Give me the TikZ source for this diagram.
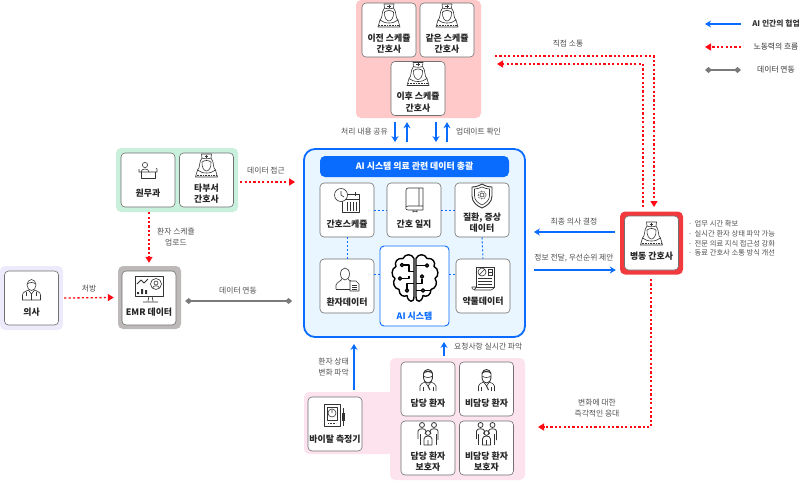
\documentclass[tikz,border=0pt]{standalone}
\usepackage{fontspec}
\setmainfont{Noto Sans CJK KR}
\usepackage{xcolor}
\usetikzlibrary{arrows.meta, positioning, calc}

\definecolor{coreblue}{HTML}{0A6CFF}
\definecolor{corefill}{HTML}{E9F6FF}
\definecolor{flowred}{HTML}{FF0A14}
\definecolor{wardred}{HTML}{F23A3E}
\definecolor{linkgray}{HTML}{7A7A7A}
\definecolor{labelgray}{HTML}{4F4F4F}
\definecolor{cardline}{HTML}{707070}
\definecolor{iconline}{HTML}{333333}
\definecolor{panelrose}{HTML}{FFC9C9}
\definecolor{panelmint}{HTML}{C9F0DC}
\definecolor{panellilac}{HTML}{ECEAFB}
\definecolor{panelstone}{HTML}{BDB9B9}
\definecolor{panelblush}{HTML}{FCE3EE}

\tikzset{
    panel/.style={rounded corners=5, inner sep=0, minimum width=#1},
    card/.style={draw=cardline, line width=.6, rounded corners=4, fill=white, inner sep=0, minimum width=54, minimum height=54},
    cardtext/.style={align=center, text=black!85, font=\fontsize{8.9}{11.5}\selectfont\bfseries, inner sep=0},
    note/.style={align=center, text=labelgray, font=\fontsize{7.8}{11}\selectfont, inner sep=0},
    aiarrow/.style={draw=coreblue, line width=1.5, -{Stealth[length=6, width=7]}},
    flowarrow/.style={draw=flowred, line width=1.3, dash pattern=on 2.2 off 2.2, -{Stealth[length=6, width=7, inset=0]}},
    datalink/.style={draw=linkgray, line width=1.5, {Diamond[length=7, width=6]}-{Diamond[length=7, width=6]}},
    coredash/.style={draw=coreblue, line width=1, dash pattern=on 2 off 2},
    icon/.style={draw=iconline, line width=.6, line join=round},
    pics/nurseicon/.style={code={
        \draw[icon] (-4.5,-8) -- (-5,-12) -- (5,-12) -- (4.5,-8);
        \draw[icon] (-1.8,-10) -- (1.8,-10) (0,-11.5) -- (0,-8.5);
        \draw[icon] (-4.5,-8) .. controls (-2,-7) and (2,-7) .. (4.5,-8);
        \draw[icon] (-4.5,-8) .. controls (-8,-4) and (-6,2) .. (-9,4) (4.5,-8) .. controls (8,-4) and (6,2) .. (9,4);
        \draw[icon] (-4.5,-4) .. controls (-5,2) and (-2,5) .. (0,5) .. controls (2,5) and (5,2) .. (4.5,-4) .. controls (2,-6) and (-2,-6) .. (-4.5,-4);
        \draw[icon] (-9,4) -- (-11,11) -- (11,11) -- (9,4) .. controls (6,6) and (4,7) .. (0,7) .. controls (-4,7) and (-6,6) .. (-9,4);
        \draw[icon, densely dotted] (-10,9) -- (10,9);
    }},
    pics/doctoricon/.style={code={
        \draw[icon] (0,-5) ellipse (4.5 and 5.5);
        \draw[icon] (-4.5,-6) .. controls (-2,-8) and (2,-8) .. (4.5,-6);
        \draw[icon] (-9,10) -- (-9,5) .. controls (-9,2) and (-5,1) .. (-3,0) -- (0,4) -- (3,0) .. controls (5,1) and (9,2) .. (9,5) -- (9,10) -- cycle;
        \draw[icon] (-5,2) -- (-5,6) (5,2) -- (5,6) (0,4) -- (0,10);
    }},
    pics/clerkicon/.style={code={
        \draw[icon] (-3,-7) circle (2.6);
        \draw[icon] (-7,0) .. controls (-7,-4) and (1,-4) .. (1,0);
        \draw[icon] (-9,-3) -- (-9,0) -- (9,0) -- (9,-3) -- (8,-4);
        \draw[icon] (-7,0) -- (-7,6) -- (7,6) -- (7,0);
    }},
    pics/monitoricon/.style={code={
        \draw[icon, line width=.9] (-14,-11) rectangle (14,9);
        \draw[icon] (0,9) -- (-1,14) (3,9) -- (4,14) (-6,15) -- (9,15);
        \draw[icon, line width=.9] (-12,-3) -- (-8,-7) -- (-5,-4) -- (-1,-8);
        \fill[iconline] (-12,5) rectangle (-10,7) (-8,2) rectangle (-6,7) (-4,3) rectangle (-2,7);
        \draw[icon] (7,-3) circle (5.5) (7,-4) circle (2);
        \draw[icon] (3.5,1) .. controls (4.5,-2) and (9.5,-2) .. (10.5,1);
    }},
    pics/scheduleicon/.style={code={
        \draw[icon] (-5,-7) rectangle (12,11);
        \draw[icon] (-5,-2) -- (12,-2) (8,-9) -- (8,-5);
        \draw[icon] (-2,1) grid[step=3] (10,10);
        \draw[icon, fill=white] (-6,-6) circle (6.5);
        \draw[icon] (-6,-10) -- (-6,-6) -- (-3,-4);
    }},
    pics/bookicon/.style={code={
        \draw[icon] (-8,8) -- (-8,-9) .. controls (-8,-10) and (-7,-11) .. (-6,-11) -- (9,-11) -- (9,7) -- (-6,7) .. controls (-9,7) and (-9,11) .. (-6,11) -- (9,11) -- (9,7);
        \draw[icon] (5,-11) -- (5,7) (-1,11) -- (-1,13) -- (1,12) -- (3,13) -- (3,11);
    }},
    pics/shieldicon/.style={code={
        \draw[icon, line width=.9] (0,-12) .. controls (3,-10) and (7,-9) .. (10,-9) -- (10,0) .. controls (10,6) and (5,10) .. (0,12) .. controls (-5,10) and (-10,6) .. (-10,0) -- (-10,-9) .. controls (-7,-9) and (-3,-10) .. (0,-12) -- cycle;
        \draw[icon] (0,-9) .. controls (2,-8) and (5,-7) .. (7.5,-7) -- (7.5,0) .. controls (7.5,4) and (4,7) .. (0,9) .. controls (-4,7) and (-7.5,4) .. (-7.5,0) -- (-7.5,-7) .. controls (-5,-7) and (-2,-8) .. (0,-9) -- cycle;
        \draw[icon, densely dotted, line width=1] (0,-1) circle (4);
        \draw[icon] (0,-1) circle (2);
    }},
    pics/charticon/.style={code={
        \draw[icon] (-2,-5) ellipse (4.5 and 6);
        \draw[icon] (-11,10) -- (-11,6) .. controls (-10,3) and (-6,2) .. (-5,0) (1,0) .. controls (2,1) and (3,2) .. (4,2);
        \draw[icon] (-11,10) -- (3,10);
        \draw[icon, fill=white] (3,2) -- (9,2) -- (12,5) -- (12,12) -- (3,12) -- cycle;
        \draw[icon] (5,6) -- (10,6) (5,8) -- (10,8) (5,10) -- (10,10);
    }},
    pics/drugicon/.style={code={
        \draw[icon, line width=.9] (-7,-11) rectangle (11,9);
        \draw[icon] (-7,9) .. controls (-7,12) and (-11,12) .. (-11,10) -- (-11,9) -- (-7,9) (-9,12) -- (8,12) .. controls (11,12) and (11,9) .. (11,9);
        \draw[icon] (-1,-6) circle (4) (-4,-3) -- (2,-9);
        \draw[icon] (5,-9) rectangle (9,-3) (5,-6) -- (9,-6);
        \draw[icon] (-5,0) -- (9,0) (-5,3) -- (9,3) (-5,6) -- (9,6);
    }},
    pics/patienticon/.style={code={
        \draw[icon, line width=.9] (-4.5,-6) .. controls (-5,2) and (-2,3) .. (0,3) .. controls (2,3) and (5,2) .. (4.5,-6) .. controls (4,-12) and (-4,-12) .. (-4.5,-6);
        \draw[icon, line width=1.1] (-4.5,-7) .. controls (-2,-9) and (2,-9) .. (4.5,-7);
        \draw[icon] (-4.5,-4) .. controls (-2,-2) and (2,-2) .. (4.5,-4);
        \draw[icon] (-8,11) -- (-8,6) .. controls (-8,4) and (-5,3) .. (-3,2) -- (0,6) -- (3,2) .. controls (5,3) and (8,4) .. (8,6) -- (8,11);
        \draw[icon, line width=1.1] (0,6) -- (2,10);
        \draw[icon] (-5,7) -- (-5,11) (5,7) -- (5,11);
    }},
    pics/familyicon/.style={code={
        \draw[icon, line width=.8] (-6,-9) circle (2.5) (6,-9) circle (2.5) (0,-1) circle (2.4);
        \draw[icon, line width=.8] (-10,5) -- (-10,-3) .. controls (-10,-6) and (-2,-6) .. (-2,-3) -- (-3,0);
        \draw[icon, line width=.8] (10,6) -- (10,-3) .. controls (10,-6) and (2,-6) .. (2,-3) -- (3,0);
        \draw[icon, line width=.8] (-8,11) -- (-8,0) (8,11) -- (8,0);
        \draw[icon, line width=.8] (-4,11) -- (-4,5) .. controls (-4,1) and (4,1) .. (4,5) -- (4,11) -- cycle (0,6) -- (0,11);
    }},
    pics/vitalicon/.style={code={
        \draw[icon, line width=.9] (-11,-12) rectangle (5,10);
        \draw[icon] (-8,-9) rectangle (2,4);
        \draw[icon] (-3,-3) circle (4) (-3,-3) -- (-3,-6);
        \draw[icon, densely dotted, line width=1] (-7,7) -- (1,7);
        \draw[icon] (8,-8) -- (8,-3);
        \fill[iconline] (6.5,-3) rectangle (9.5,5);
        \draw[icon] (8,5) -- (8,10);
    }},
}

\begin{document}
\begin{tikzpicture}[x=1pt, y=-1pt]
    \useasboundingbox (0,0) rectangle (800,480);

    % Panels
    \node[panel=125, minimum height=118, fill=panelrose] (shiftpanel) at (418.5,59) {};
    \node[panel=122, minimum height=64, fill=panelmint] (staffpanel) at (177,180) {};
    \node[panel=63, minimum height=64, fill=panellilac] (doctorpanel) at (31.5,298) {};
    \node[panel=63, minimum height=63, fill=panelstone] (emrpanel) at (149.5,297.5) {};
    \node[panel=63, minimum height=63, fill=wardred] (wardpanel) at (651.5,243) {};
    \node[panel=95, minimum height=62, fill=panelblush] (vitalpanel) at (351.5,423) {};
    \node[panel=135, minimum height=122, fill=panelblush] (patientpanel) at (457.5,419) {};
    \node[panel=221, minimum height=188, draw=coreblue, line width=1.8, fill=corefill, rounded corners=11] (corepanel) at (414.5,243) {};
    \node[rounded corners=5, fill=coreblue, minimum width=189, minimum height=21, inner sep=0, text=white, font=\fontsize{8.9}{11}\selectfont\bfseries] (coretitle) at (414.5,166.5) {AI 시스템 의료 관련 데이터 총괄};

    % Nurses on shift
    \node[card] (prevnurse) at (389,30) {};
    \node[cardtext] (prevnursetext) at ([yshift=-13.5pt]prevnurse.center) {이전 스케쥴\\간호사};
    \pic at ([yshift=14pt]prevnurse.center) {nurseicon};
    \node[card] (samenurse) at (447,30) {};
    \node[cardtext] (samenursetext) at ([yshift=-13.5pt]samenurse.center) {같은 스케쥴\\간호사};
    \pic at ([yshift=14pt]samenurse.center) {nurseicon};
    \node[card] (nextnurse) at (418,88.5) {};
    \node[cardtext] (nextnursetext) at ([yshift=-13.5pt]nextnurse.center) {이후 스케쥴\\간호사};
    \pic at ([yshift=14pt]nextnurse.center) {nurseicon};

    % Other staff
    \node[card] (office) at (148,180) {};
    \node[cardtext] (officetext) at ([yshift=-13pt]office.center) {원무과};
    \pic at ([yshift=8pt]office.center) {clerkicon};
    \node[card] (othernurse) at (206.5,180) {};
    \node[cardtext] (othernursetext) at ([yshift=-13.5pt]othernurse.center) {타부서\\간호사};
    \pic at ([yshift=14pt]othernurse.center) {nurseicon};
    \node[card] (doctor) at (31.5,298) {};
    \node[cardtext] (doctortext) at ([yshift=-14pt]doctor.center) {의사};
    \pic at ([yshift=8pt]doctor.center) {doctoricon};
    \node[card] (emr) at (149,298) {};
    \node[cardtext] (emrtext) at ([yshift=-14pt]emr.center) {EMR 데이터};
    \pic at ([yshift=11pt]emr.center) {monitoricon};
    \node[card] (ward) at (651.5,243) {};
    \node[cardtext] (wardtext) at ([yshift=-13pt]ward.center) {병동 간호사};
    \pic at ([yshift=9pt]ward.center) {nurseicon};

    % Data cards
    \node[card] (schedule) at (347,210) {};
    \node[cardtext] (scheduletext) at ([yshift=-14pt]schedule.center) {간호스케쥴};
    \pic at ([yshift=9pt]schedule.center) {scheduleicon};
    \node[card] (diary) at (414,210) {};
    \node[cardtext] (diarytext) at ([yshift=-14pt]diary.center) {간호 일지};
    \pic at ([yshift=11pt]diary.center) {bookicon};
    \node[card] (disease) at (482,210) {};
    \node[cardtext] (diseasetext) at ([yshift=-12.5pt]disease.center) {질환, 증상\\데이터};
    \pic at ([yshift=14pt]disease.center) {shieldicon};
    \node[card] (patientdata) at (347,286) {};
    \node[cardtext] (patientdatatext) at ([yshift=-16pt]patientdata.center) {환자데이터};
    \pic at ([yshift=7pt]patientdata.center) {charticon};
    \node[card] (drugdata) at (483,286) {};
    \node[cardtext] (drugdatatext) at ([yshift=-15pt]drugdata.center) {약물데이터};
    \pic at ([yshift=8pt]drugdata.center) {drugicon};
    \node[card, draw=coreblue, line width=.9, minimum width=69, minimum height=80] (aisystem) at (414.5,286) {};
    \node[cardtext, text=coreblue] (aisystemtext) at ([yshift=-30pt]aisystem.center) {AI 시스템};

    % Brain
    \begin{scope}[shift={(415,278.5)}, line width=1.4, line join=round]
        \foreach \side in {1,-1} {
            \begin{scope}[xscale=\side]
                \draw (1,-20) .. controls (3,-25) and (10,-25) .. (12,-20)
                    .. controls (18,-21) and (21,-16) .. (19,-12)
                    .. controls (24,-10) and (24,-2) .. (20,0)
                    .. controls (23,4) and (21,10) .. (16,11)
                    .. controls (16,17) and (11,19) .. (8,17)
                    .. controls (7,24) and (1,25) .. (1,18) -- cycle;
            \end{scope}
        }
        \draw (-11.5,-13.5) -- (-6,-13.5) -- (-6,-7) -- (-1,-7);
        \draw (-13.5,0) -- (-6,0) -- (-6,-3);
        \draw (-8,10) -- (-8,5) -- (-1,5);
        \draw (10.5,-13) -- (1,-13);
        \draw (7,0) -- (7,5) -- (1,5);
        \draw (9.5,12) -- (16,12) (6.5,12) -- (1,12);
        \draw (-13,-13.5) circle (1.7) (-15,0) circle (1.7) (-8,12) circle (1.7);
        \draw (12,-13) circle (1.7) (7,-2) circle (1.7) (8,12) circle (1.7);
    \end{scope}

    % Patients
    \node[card] (mypatient) at (428,389) {};
    \node[cardtext] (mypatienttext) at ([yshift=-14pt]mypatient.center) {담당 환자};
    \pic at ([yshift=9pt]mypatient.center) {patienticon};
    \node[card] (otherpatient) at (486.5,389) {};
    \node[cardtext] (otherpatienttext) at ([yshift=-14pt]otherpatient.center) {비담당 환자};
    \pic at ([yshift=9pt]otherpatient.center) {patienticon};
    \node[card] (myguardian) at (428,448) {};
    \node[cardtext] (myguardiantext) at ([yshift=-13.5pt]myguardian.center) {담당 환자\\보호자};
    \pic at ([yshift=14pt]myguardian.center) {familyicon};
    \node[card] (otherguardian) at (486.5,448) {};
    \node[cardtext] (otherguardiantext) at ([yshift=-13.5pt]otherguardian.center) {비담당 환자\\보호자};
    \pic at ([yshift=14pt]otherguardian.center) {familyicon};
    \node[card] (vital) at (335,424) {};
    \node[cardtext] (vitaltext) at ([yshift=-15pt]vital.center) {바이탈 측정기};
    \pic at ([yshift=8pt]vital.center) {vitalicon};

    % Edges
    \draw[coredash] (schedule) -- (diary);
    \draw[coredash] (diary) -- (disease);
    \draw[coredash] (schedule) -- (patientdata);
    \draw[coredash] (disease.south) -- (drugdata.north);
    \draw[coredash] ([yshift=12pt]patientdata.east) -- ([yshift=12pt]patientdata.east -| aisystem.west);
    \draw[coredash] ([yshift=12pt]aisystem.east) -- ([yshift=12pt]aisystem.east -| drugdata.west);

    \draw[aiarrow] ([xshift=-23.5pt,yshift=-4pt]shiftpanel.south) -- ([xshift=-19.5pt,yshift=6pt]corepanel.north);
    \draw[aiarrow] ([xshift=-7.5pt,yshift=6pt]corepanel.north) -- ([xshift=-11.5pt,yshift=-4pt]shiftpanel.south);
    \draw[aiarrow] ([xshift=17.5pt,yshift=-4pt]shiftpanel.south) -- ([xshift=21.5pt,yshift=6pt]corepanel.north);
    \draw[aiarrow] ([xshift=32.5pt,yshift=6pt]corepanel.north) -- ([xshift=28.5pt,yshift=-4pt]shiftpanel.south);
    \draw[aiarrow] ([xshift=-5pt,yshift=11pt]wardpanel.west) -- ([xshift=8pt,yshift=11pt]corepanel.east);
    \draw[aiarrow] ([xshift=8pt,yshift=-27pt]corepanel.east) -- ([xshift=-4pt,yshift=-27pt]wardpanel.west);
    \draw[aiarrow] ([xshift=2.5pt,yshift=2pt]vitalpanel.north) -- ([xshift=-60.5pt,yshift=-6pt]corepanel.south);
    \draw[aiarrow] ([xshift=-13.5pt,yshift=2pt]patientpanel.north) -- ([xshift=29.5pt,yshift=-4pt]corepanel.south);

    \draw[flowarrow] ([xshift=2pt,yshift=-2pt]staffpanel.east) -- ([xshift=-8pt,yshift=61pt]corepanel.west);
    \draw[flowarrow] ([xshift=-28pt]staffpanel.south) -- ([xshift=-.5pt,yshift=3pt]emrpanel.north);
    \draw[flowarrow] ([xshift=1pt]doctorpanel.east) -- ([xshift=-4pt]emrpanel.west);
    \draw[datalink] ([xshift=4pt,yshift=-3.5pt]emrpanel.east) -- ([xshift=-11pt,yshift=-58pt]corepanel.west);

    \coordinate (shiftin) at (495,56);
    \coordinate (shiftout) at (497,64);
    \draw[flowarrow] (shiftin) -- (654,56) -- (654,207);
    \draw[flowarrow] (643,207) -- (643,64) -- (shiftout);
    \draw[flowarrow] (651,279) -- (651,427) -- (538,427);

    % Labels
    \node[note] (sharelabel) at (364.5,132) {처리 내용 공유};
    \node[note] (updatelabel) at (478.5,132) {업데이트 확인};
    \node[note] (talklabel) at (568,44) {직접 소통};
    \node[note] (accesslabel) at (266,171) {데이터 접근};
    \node[note] (uploadlabel) at (176,237.5) {환자 스케쥴\\업로드};
    \node[note] (orderlabel) at (89,289) {처방};
    \node[note] (linklabel) at (238,291) {데이터 연동};
    \node[note] (decisionlabel) at (574,222) {최종 의사 결정};
    \node[note] (proposallabel) at (574,258) {정보 전달, 우선순위 제안};
    \node[note] (responselabel) at (597,408) {변화에 대한\\즉각적인 응대};
    \node[note, align=right, anchor=east] (changelabel) at (349,367.5) {환자 상태\\변화 파악};
    \node[note, anchor=west] (requestlabel) at (454,347) {요청사항 실시간 파악};
    \node[note, align=left, anchor=west, font=\fontsize{7.3}{9.7}\selectfont] (benefitlist) at (688,238.5) {·\,\,업무 시간 확보\\·\,\,실시간 환자 상태 파악 가능\\·\,\,전문 의료 지식 접근성 강화\\·\,\,동료 간호사 소통 방식 개선};

    % Legend
    \coordinate (legendaia) at (741,24);
    \coordinate (legendaib) at (705,24);
    \coordinate (legendflowa) at (741,47);
    \coordinate (legendflowb) at (705,47);
    \coordinate (legendlinka) at (741,70);
    \coordinate (legendlinkb) at (705,70);
    \draw[aiarrow] (legendaia) -- (legendaib);
    \draw[flowarrow] (legendflowa) -- (legendflowb);
    \draw[datalink] (legendlinka) -- (legendlinkb);
    \node[note, text=black!80, font=\fontsize{7.8}{11}\selectfont\bfseries] (legendai) at (776,24) {AI 인간의 협업};
    \node[note, text=black!80] (legendflow) at (776,47) {노동력의 흐름};
    \node[note, text=black!80] (legendlink) at (776,70) {데이터 연동};
\end{tikzpicture}
\end{document}
